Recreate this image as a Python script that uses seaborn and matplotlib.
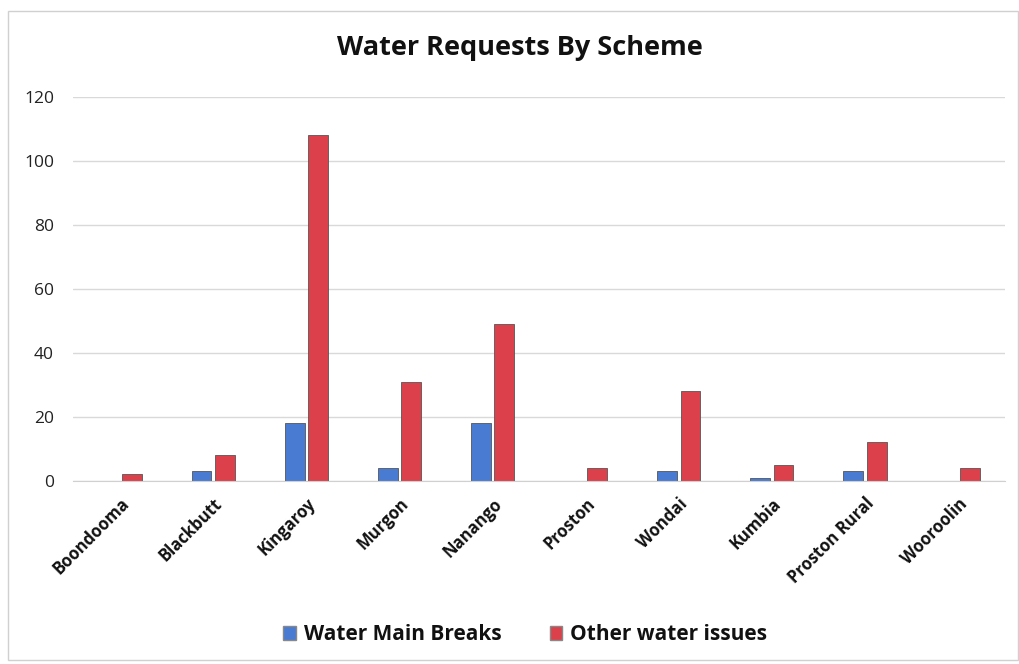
import pandas as pd
import matplotlib.pyplot as plt
import matplotlib.patches as mpatches
import seaborn as sns

# Datos
schemes = ["Boondooma", "Blackbutt", "Kingaroy", "Murgon", "Nanango",
           "Proston", "Wondai", "Kumbia", "Proston Rural", "Wooroolin"]
main_breaks = [0, 3, 18, 4, 18, 0, 3, 1, 3, 0]
other_issues = [2, 8, 108, 31, 49, 4, 28, 5, 12, 4]
series = ["Water Main Breaks", "Other water issues"]
colors = ["#4a7bd2", "#dc414b"]

df = pd.DataFrame({"scheme": schemes * 2,
                   "serie": [series[0]] * len(schemes) + [series[1]] * len(schemes),
                   "valor": main_breaks + other_issues})

sns.set_style("white")
plt.rcParams['font.family'] = ['Open Sans', 'DejaVu Sans']

fig = plt.figure(figsize=(10.2, 6.64), dpi=100)
ax = fig.add_axes([0.072, 0.276, 0.913, 0.578])

sns.barplot(data=df, x="scheme", y="valor", hue="serie", palette=colors,
            saturation=1, width=0.5, gap=0.15, edgecolor="#555555",
            linewidth=0.6, ax=ax)

ax.set_ylim(0, 120)
ax.set_yticks(range(0, 121, 20))
ax.set_xlim(-0.5, len(schemes) - 0.5)
ax.grid(axis="y", color="#d9d9d9", linewidth=1)
ax.set_axisbelow(True)
sns.despine(ax=ax, left=True, top=True, right=True)
ax.spines["bottom"].set_color("#d0d0d0")
ax.tick_params(axis="y", length=0, labelsize=12.5, colors="#222222", pad=14)
ax.tick_params(axis="x", length=0, labelsize=12, colors="#111111", pad=10)
ax.set_xticks(range(len(schemes)))
ax.set_xticklabels(schemes, rotation=45, ha="right", rotation_mode="anchor",
                   fontweight="bold")
ax.set_xlabel("")
ax.set_ylabel("")

fig.text(0.51, 0.927, "Water Requests By Scheme", ha="center", va="center",
         fontsize=19.5, fontweight="bold", color="#111111")

ax.legend_.remove()
handles = [mpatches.Patch(facecolor=c, edgecolor="#888888") for c in colors]
fig.legend(handles, series, loc="center", bbox_to_anchor=(0.515, 0.044), ncol=2,
           frameon=False, prop={"size": 15, "weight": "bold"},
           handlelength=0.6, handleheight=0.6, handletextpad=0.4,
           columnspacing=2.3, labelcolor="#111111")

# borde del grafico
fig.patches.append(mpatches.Rectangle((0.008, 0.006), 0.99, 0.978, transform=fig.transFigure,
                                      fill=False, edgecolor="#d0d0d0", linewidth=1))

fig.savefig("out.png", dpi=100)
